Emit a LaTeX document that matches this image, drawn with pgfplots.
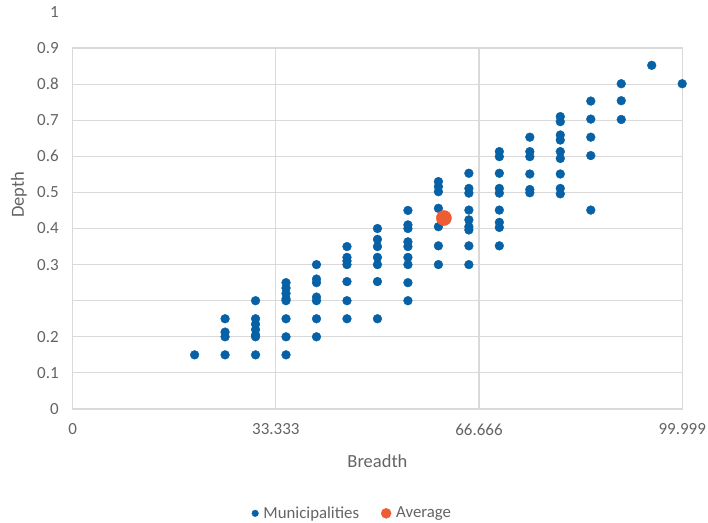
\documentclass[border=0pt]{standalone}
\usepackage{pgfplots}
\pgfplotsset{compat=1.18}
\usepackage{fontspec}
\setmainfont{Carlito}
\definecolor{muniblue}{RGB}{6,97,166}
\definecolor{avgorange}{RGB}{237,92,50}
\definecolor{txtgray}{RGB}{100,100,100}
\definecolor{gridgray}{RGB}{217,217,217}
\begin{document}
\begin{tikzpicture}
\useasboundingbox (-72.7bp,-114bp) rectangle (635.3bp,409bp);
\begin{axis}[
  scale only axis,
  width=609.5bp, height=361bp,
  xmin=0, xmax=100, ymin=0, ymax=1,
  clip=false,
  xtick={0,33.333,66.666,99.999},
  xticklabels={0,33.333,66.666,99.999},
  ytick={0,0.1,0.2,0.3,0.4,0.5,0.6,0.7,0.8,0.9,1},
  yticklabels={0,0.1,0.2,{},0.3,0.4,0.5,0.6,0.7,0.8,0.9},
  major tick length=0pt,
  xmajorgrids, ymajorgrids,
  grid style={gridgray, line width=1.1bp},
  axis line style={gridgray, line width=1.1bp},
  tick label style={font=\fontsize{17bp}{20bp}\selectfont, text=txtgray},
  /pgf/number format/assume math mode=true,
  yticklabel style={xshift=-10.5bp},
  xticklabel style={yshift=-11bp},
  xlabel={Breadth},
  every axis x label/.style={at={(rel axis cs:0.5,0)}, anchor=base, yshift=-58.3bp, font=\fontsize{18.5bp}{22bp}\selectfont, text=txtgray},
  ylabel={Depth},
  every axis y label/.style={at={(rel axis cs:0,0.593)}, xshift=-53.7bp, rotate=90, anchor=center, font=\fontsize{18.5bp}{22bp}\selectfont, text=txtgray},
  legend columns=2,
  legend style={at={(axis description cs:0.459,-0.289)}, anchor=center, draw=none, fill=none,
    font=\fontsize{16.8bp}{20bp}\selectfont, text=txtgray,
    /tikz/every odd column/.append style={column sep=3bp},
    /tikz/every even column/.append style={column sep=20bp}},
  legend cell align=left,
]
\addplot[only marks, mark=*, mark size=4.4bp, color=muniblue,
  legend image post style={mark size=3.3bp}] coordinates {
(20,0.15)
(25,0.25)(25,0.213)(25,0.20)(25,0.15)
(30,0.30)(30,0.25)(30,0.235)(30,0.22)(30,0.205)(30,0.20)(30,0.15)
(35,0.35)(35,0.335)(35,0.32)(35,0.305)(35,0.30)(35,0.25)(35,0.20)(35,0.15)
(40,0.40)(40,0.36)(40,0.35)(40,0.31)(40,0.30)(40,0.25)(40,0.20)
(45,0.45)(45,0.42)(45,0.41)(45,0.40)(45,0.353)(45,0.30)(45,0.25)
(50,0.50)(50,0.47)(50,0.45)(50,0.42)(50,0.40)(50,0.353)(50,0.25)
(55,0.55)(55,0.51)(55,0.50)(55,0.463)(55,0.45)(55,0.42)(55,0.40)(55,0.35)(55,0.30)
(60,0.63)(60,0.616)(60,0.602)(60,0.556)(60,0.505)(60,0.452)(60,0.40)
(65,0.653)(65,0.611)(65,0.598)(65,0.551)(65,0.524)(65,0.505)(65,0.496)(65,0.452)(65,0.40)
(70,0.713)(70,0.699)(70,0.653)(70,0.611)(70,0.598)(70,0.551)(70,0.517)(70,0.503)(70,0.452)
(75,0.753)(75,0.713)(75,0.699)(75,0.651)(75,0.608)(75,0.599)
(80,0.81)(80,0.796)(80,0.759)(80,0.745)(80,0.713)(80,0.694)(80,0.651)(80,0.611)(80,0.596)
(85,0.853)(85,0.803)(85,0.753)(85,0.702)(85,0.551)
(90,0.901)(90,0.854)(90,0.802)
(95,0.952)
(100,0.901)
};
\addlegendentry{Municipalities}
\addplot[only marks, mark=*, mark size=7.6bp, color=avgorange,
  legend image post style={mark size=5bp}] coordinates {(60.9,0.529)};
\addlegendentry{Average}
\node[anchor=east, font=\fontsize{17bp}{20bp}\selectfont, text=txtgray, xshift=-10.5bp] at (axis cs:0,1.1) {1};
\end{axis}
\end{tikzpicture}
\end{document}
